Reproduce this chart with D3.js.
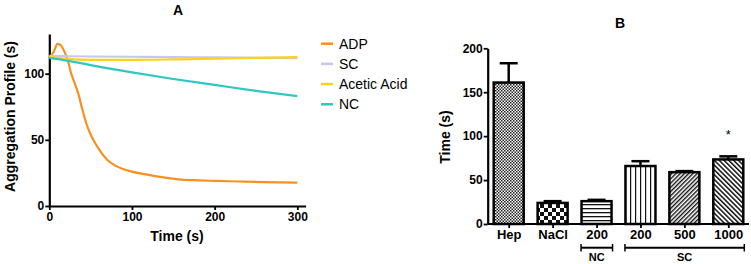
<!DOCTYPE html>
<html>
<head>
<meta charset="utf-8">
<script src="https://cdn.jsdelivr.net/npm/d3@7"></script>
<style>
  body { margin: 0; background: #fff; }
  svg { display: block; font-family: "Liberation Sans", Arial, sans-serif; }
</style>
</head>
<body>
<div id="chart"></div>
<script>
// ---- panel A data (aggregation traces) ----
const adpTime  = [0, 5, 10, 14, 18, 22, 26, 30, 35, 40, 45, 50, 55, 60, 70, 80, 90, 100, 120, 140, 160, 180, 200, 230, 260, 300];
const adpValue = [112, 116, 122.5, 121.5, 117, 111, 101, 94, 85, 73, 62, 54, 48, 43, 35, 30.5, 27.8, 26, 23.5, 21.5, 20, 19.4, 19, 18.5, 18, 17.6];
const lineTime = [0, 25, 50, 100, 150, 200, 250, 300];
const scValue      = [113.5, 113.2, 113, 112.8, 112.5, 112.3, 112, 111.8];
const aceticValue  = [113, 111, 110.5, 110.5, 110.8, 111.3, 112, 112.5];
const ncValue      = [112, 109.5, 106.5, 101, 96, 91.5, 87, 83];
const seriesNames  = ["ADP", "SC", "Acetic Acid", "NC"];
const seriesColors = ["#f7901e", "#c9c6ee", "#ffd21a", "#2ec7c4"];

// ---- panel B data (bars) ----
const barLabels = ["Hep", "NaCl", "200", "200", "500", "1000"];
const barMeans  = [161, 24, 26, 66, 59, 73.5];
const barErrors = [22, 2, 1.5, 5.5, 1.2, 3.5];
const groupNames = ["NC", "SC"];
const groupSpans = [[2, 2], [3, 5]];

const svg = d3.select("#chart").append("svg")
  .attr("width", 751).attr("height", 264);

// ---------- patterns ----------
const defs = svg.append("defs");
function pat(id, w, h, tf) {
  const p = defs.append("pattern").attr("id", id)
    .attr("patternUnits", "userSpaceOnUse").attr("width", w).attr("height", h);
  if (tf) p.attr("patternTransform", tf);
  p.append("rect").attr("width", w).attr("height", h).attr("fill", "#fff");
  return p;
}
let p = pat("pHep", 3, 3);
p.append("rect").attr("width", 1.5).attr("height", 1.5).attr("fill", "#222");
p.append("rect").attr("x", 1.5).attr("y", 1.5).attr("width", 1.5).attr("height", 1.5).attr("fill", "#222");
p = pat("pNaCl", 8, 8);
p.append("rect").attr("width", 4).attr("height", 4).attr("fill", "#111");
p.append("rect").attr("x", 4).attr("y", 4).attr("width", 4).attr("height", 4).attr("fill", "#111");
p = pat("pNC", 4, 4);
p.append("rect").attr("y", 0).attr("width", 4).attr("height", 1.3).attr("fill", "#111");
p = pat("pSC200", 5, 5);
p.append("rect").attr("x", 0).attr("width", 1.2).attr("height", 5).attr("fill", "#111");
p = pat("pSC500", 3, 3, "rotate(45)");
p.append("rect").attr("width", 1.4).attr("height", 3).attr("fill", "#111");
p = pat("pSC1000", 3.4, 3.4, "rotate(-45)");
p.append("rect").attr("width", 1.5).attr("height", 3.4).attr("fill", "#111");
const barFills = ["url(#pHep)", "url(#pNaCl)", "url(#pNC)", "url(#pSC200)", "url(#pSC500)", "url(#pSC1000)"];

function styleAxis(g, size) {
  g.select(".domain").attr("stroke", "#000").attr("stroke-width", 2.2);
  g.selectAll(".tick line").attr("stroke", "#000").attr("stroke-width", 1.8);
  g.selectAll(".tick text").attr("fill", "#000").style("font-size", (size || 12) + "px").style("font-weight", "bold")
    .style("font-family", "Liberation Sans, Arial, sans-serif");
}

// ---------- panel A ----------
const xA = d3.scaleLinear().domain([0, 310]).range([49.3, 305.6]);
const yA = d3.scaleLinear().domain([0, 130]).range([206, 34]);

const gA = svg.append("g");
gA.append("g").attr("transform", "translate(0,206)")
  .call(d3.axisBottom(xA).tickValues([0, 100, 200, 300]).tickSize(4).tickSizeOuter(0).tickPadding(2))
  .call(styleAxis);
gA.append("g").attr("transform", "translate(49.3,0)")
  .call(d3.axisLeft(yA).tickValues([0, 50, 100]).tickSize(4).tickSizeOuter(0).tickPadding(1))
  .call(styleAxis);

const lineA = d3.line().x(d => xA(d[0])).y(d => yA(d[1])).curve(d3.curveMonotoneX);
const seriesData = [
  d3.zip(adpTime, adpValue),
  d3.zip(lineTime, scValue),
  d3.zip(lineTime, aceticValue),
  d3.zip(lineTime, ncValue)
];
gA.selectAll("path.trace").data(seriesData).enter().append("path")
  .attr("class", "trace")
  .attr("d", lineA)
  .attr("fill", "none")
  .attr("stroke", (d, i) => seriesColors[i])
  .attr("stroke-width", 2.2);

gA.append("text").attr("x", 178).attr("y", 15).attr("text-anchor", "middle")
  .style("font-size", "14px").style("font-weight", "bold").text("A");
gA.append("text").attr("x", 177).attr("y", 241).attr("text-anchor", "middle")
  .style("font-size", "14px").style("font-weight", "bold").text("Time (s)");
gA.append("text").attr("transform", "translate(15,116.5) rotate(-90)").attr("text-anchor", "middle")
  .style("font-size", "14px").style("font-weight", "bold").text("Aggregation Profile (s)");

// legend
const leg = svg.append("g").selectAll("g").data(seriesNames).enter().append("g")
  .attr("transform", (d, i) => "translate(321," + (43.7 + i * 20.2) + ")");
leg.append("line").attr("x1", 0).attr("x2", 12)
  .attr("stroke", (d, i) => seriesColors[i]).attr("stroke-width", 2.5);
leg.append("text").attr("x", 18).attr("y", 5).style("font-size", "14px").text(d => d);

// ---------- panel B ----------
const idx = d3.range(barLabels.length);
const xB = d3.scalePoint().domain(idx).range([508.7, 728.3]);
const yB = d3.scaleLinear().domain([0, 200]).range([224, 48.3]);
const barW = 30;

const gB = svg.append("g");
// bars
gB.selectAll("rect.bar").data(barMeans).enter().append("rect")
  .attr("class", "bar")
  .attr("x", (d, i) => xB(i) - barW / 2)
  .attr("y", d => yB(d))
  .attr("width", barW)
  .attr("height", d => yB(0) - yB(d))
  .attr("fill", (d, i) => barFills[i])
  .attr("stroke", "#000").attr("stroke-width", 2.5);
// error bars (upper)
const eb = gB.selectAll("g.err").data(barMeans).enter().append("g").attr("class", "err");
eb.append("line")
  .attr("x1", (d, i) => xB(i)).attr("x2", (d, i) => xB(i))
  .attr("y1", d => yB(d)).attr("y2", (d, i) => yB(d + barErrors[i]))
  .attr("stroke", "#000").attr("stroke-width", 2.5);
eb.append("line")
  .attr("x1", (d, i) => xB(i) - 9).attr("x2", (d, i) => xB(i) + 9)
  .attr("y1", (d, i) => yB(d + barErrors[i])).attr("y2", (d, i) => yB(d + barErrors[i]))
  .attr("stroke", "#000").attr("stroke-width", 2.5);

// axes
gB.append("g").attr("transform", "translate(0,224)")
  .call(d3.axisBottom(xB).tickFormat(i => barLabels[i]).tickSize(4).tickSizeOuter(0).tickPadding(2))
  .call(styleAxis, 13)
  .call(g => g.select(".domain").attr("d", "M487.7,0H749"));
gB.append("g").attr("transform", "translate(487.7,0)")
  .call(d3.axisLeft(yB).tickValues([0, 50, 100, 150, 200]).tickSize(4).tickSizeOuter(0).tickPadding(1))
  .call(styleAxis);

// significance star
gB.append("text").attr("x", xB(5)).attr("y", yB(97)).attr("text-anchor", "middle")
  .style("font-size", "13px").text("*");

// group brackets
const br = gB.selectAll("g.bracket").data(groupNames).enter().append("g").attr("class", "bracket");
const bx1 = (d, i) => xB(groupSpans[i][0]) - barW / 2 - 0.5;
const bx2 = (d, i) => xB(groupSpans[i][1]) + barW / 2 + 1;
br.append("line").attr("x1", bx1).attr("x2", bx2).attr("y1", 247.7).attr("y2", 247.7)
  .attr("stroke", "#000").attr("stroke-width", 2);
br.append("line").attr("x1", bx1).attr("x2", bx1).attr("y1", 244).attr("y2", 251.5)
  .attr("stroke", "#000").attr("stroke-width", 1.5);
br.append("line").attr("x1", bx2).attr("x2", bx2).attr("y1", 244).attr("y2", 251.5)
  .attr("stroke", "#000").attr("stroke-width", 1.5);
br.append("text")
  .attr("x", (d, i) => (bx1(d, i) + bx2(d, i)) / 2).attr("y", 261)
  .attr("text-anchor", "middle").style("font-size", "11px").style("font-weight", "bold").text(d => d);

gB.append("text").attr("x", 620).attr("y", 28).attr("text-anchor", "middle")
  .style("font-size", "14px").style("font-weight", "bold").text("B");
gB.append("text").attr("transform", "translate(450,137) rotate(-90)").attr("text-anchor", "middle")
  .style("font-size", "14px").style("font-weight", "bold").text("Time (s)");
</script>
</body>
</html>
